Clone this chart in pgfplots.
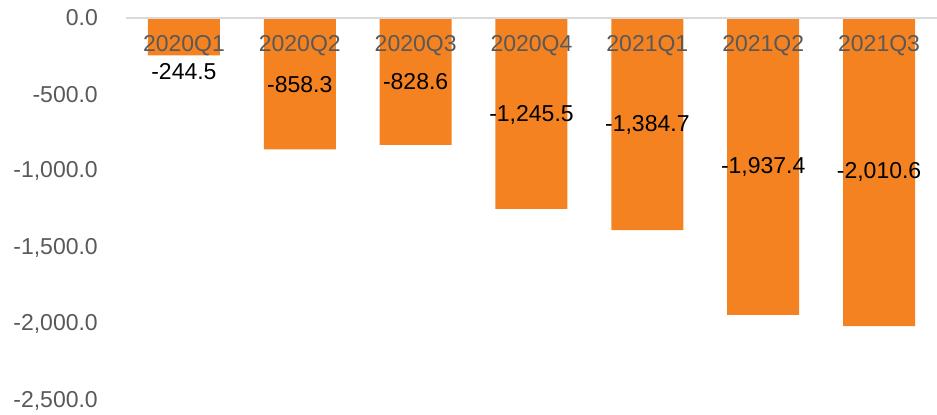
\documentclass[border=0pt]{standalone}
\usepackage{pgfplots}
\pgfplotsset{compat=1.18}
\usepackage{fontspec}
\setmainfont{Liberation Sans}
\definecolor{barorange}{HTML}{F58220}
\definecolor{ticktext}{HTML}{595959}
\definecolor{axisgray}{HTML}{D9D9D9}
\begin{document}
\fontsize{23bp}{27bp}\selectfont
\begin{tikzpicture}
\useasboundingbox (-126bp,-14bp) rectangle (811bp,401bp);
\begin{axis}[
  at={(0,0)}, anchor=south west,
  width=811bp, height=383bp, scale only axis,
  xmin=-0.5, xmax=6.5, ymin=-2500, ymax=0,
  axis x line*=top, axis y line*=left,
  y axis line style={draw=none},
  x axis line style={draw=axisgray, line width=1.5bp},
  major tick length=0pt,
  xtick={0,1,2,3,4,5,6},
  xticklabels={2020Q1,2020Q2,2020Q3,2020Q4,2021Q1,2021Q2,2021Q3},
  xticklabel style={anchor=center, inner sep=0pt, yshift=-28bp, text=ticktext, font=\fontsize{23bp}{27bp}\selectfont},
  ytick={0,-500,-1000,-1500,-2000,-2500},
  yticklabel style={anchor=east, inner sep=0pt, xshift=-28bp, text=ticktext, font=\fontsize{23bp}{27bp}\selectfont,
    /pgf/number format/.cd, fixed, fixed zerofill, precision=1, 1000 sep={,}, assume math mode=true},
  axis on top=true,
  clip=false,
]
\addplot[ybar, bar width=72bp, fill=barorange, draw=none, bar shift=0pt]
  coordinates {(0,-244.5) (1,-858.3) (2,-828.6) (3,-1245.5) (4,-1384.7) (5,-1937.4) (6,-2010.6)};
\addplot[draw=none, mark=none, point meta=explicit,
  nodes near coords={\pgfmathprintnumber[fixed,fixed zerofill,precision=1,1000 sep={,},assume math mode=true]{\pgfplotspointmeta}},
  nodes near coords style={anchor=center, inner sep=0pt, text=black, font=\fontsize{23bp}{27bp}\selectfont}]
  coordinates {(0,-352) [-244.5] (1,-432) [-858.3] (2,-416) [-828.6] (3,-630) [-1245.5] (4,-695) [-1384.7] (5,-970) [-1937.4] (6,-1005) [-2010.6]};
\end{axis}
\end{tikzpicture}
\end{document}
